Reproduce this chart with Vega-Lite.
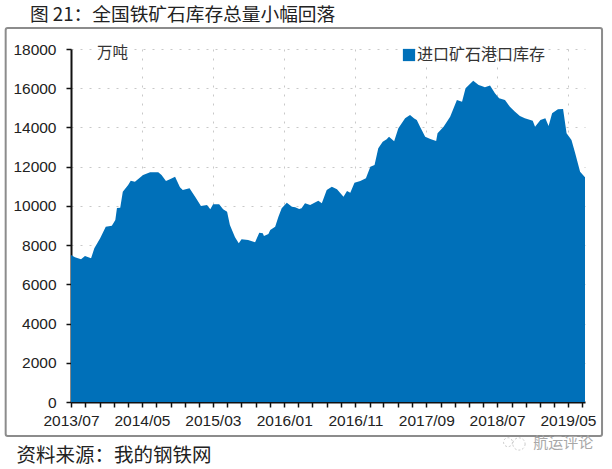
{
"$schema":"https://vega.github.io/schema/vega-lite/v6.json",
"width":514,"height":353,
"autosize":{"type":"none"},
"padding":{"left":71,"top":49,"right":27,"bottom":67},
"background":"white",
"config":{"font":"Liberation Sans","view":{"stroke":null}},
"title":{"text":"图 21：全国铁矿石库存总量小幅回落","anchor":"start","frame":"group","dx":-41,"offset":-7,"baseline":"middle","font":"Noto Sans CJK SC","fontSize":18.7,"fontWeight":"normal","color":"#222222"},
"resolve":{"axis":{"x":"independent","y":"independent"}},
"data":{"values":[
{"date":"2013-07-01","stock":7500},{"date":"2013-07-18","stock":7380},{"date":"2013-08-13","stock":7277},{"date":"2013-08-30","stock":7446},{"date":"2013-09-25","stock":7328},{"date":"2013-10-09","stock":7838},{"date":"2013-11-03","stock":8347},{"date":"2013-11-27","stock":8942},{"date":"2013-12-23","stock":8993},{"date":"2014-01-07","stock":9282},{"date":"2014-01-14","stock":9894},{"date":"2014-01-28","stock":9909},{"date":"2014-02-08","stock":10725},{"date":"2014-03-03","stock":11067},{"date":"2014-03-14","stock":11287},{"date":"2014-04-01","stock":11236},{"date":"2014-05-06","stock":11577},{"date":"2014-06-05","stock":11712},{"date":"2014-07-10","stock":11712},{"date":"2014-07-24","stock":11577},{"date":"2014-08-12","stock":11271},{"date":"2014-08-29","stock":11357},{"date":"2014-09-20","stock":11492},{"date":"2014-10-11","stock":10948},{"date":"2014-10-23","stock":10812},{"date":"2014-11-21","stock":10897},{"date":"2014-12-15","stock":10472},
{"date":"2015-01-09","stock":9996},{"date":"2015-02-04","stock":10047},{"date":"2015-02-18","stock":9825},{"date":"2015-03-02","stock":10081},{"date":"2015-03-28","stock":10081},{"date":"2015-04-14","stock":9825},{"date":"2015-05-01","stock":9705},{"date":"2015-05-13","stock":9027},{"date":"2015-06-04","stock":8398},{"date":"2015-06-20","stock":8092},{"date":"2015-07-02","stock":8296},{"date":"2015-07-30","stock":8262},{"date":"2015-08-29","stock":8143},{"date":"2015-09-16","stock":8636},{"date":"2015-10-01","stock":8602},{"date":"2015-10-06","stock":8466},{"date":"2015-10-25","stock":8568},{"date":"2015-11-02","stock":8772},{"date":"2015-11-23","stock":8942},{"date":"2015-12-07","stock":9452},{"date":"2015-12-21","stock":9877},
{"date":"2016-01-12","stock":10166},{"date":"2016-02-03","stock":9960},{"date":"2016-02-17","stock":9928},{"date":"2016-03-05","stock":9843},{"date":"2016-03-15","stock":9877},{"date":"2016-03-30","stock":10132},{"date":"2016-04-21","stock":10047},{"date":"2016-05-26","stock":10268},{"date":"2016-06-10","stock":10132},{"date":"2016-07-01","stock":10812},{"date":"2016-07-23","stock":10982},{"date":"2016-08-14","stock":10846},{"date":"2016-09-11","stock":10472},{"date":"2016-09-26","stock":10761},{"date":"2016-10-10","stock":10676},{"date":"2016-10-28","stock":11186},{"date":"2016-11-22","stock":11271},{"date":"2016-12-16","stock":11407},
{"date":"2017-01-04","stock":12000},{"date":"2017-01-22","stock":12087},{"date":"2017-02-07","stock":12937},{"date":"2017-02-26","stock":13276},{"date":"2017-03-15","stock":13397},{"date":"2017-03-25","stock":13530},{"date":"2017-04-16","stock":13295},{"date":"2017-05-04","stock":13960},{"date":"2017-06-02","stock":14468},{"date":"2017-06-23","stock":14637},{"date":"2017-07-11","stock":14450},{"date":"2017-07-22","stock":14382},{"date":"2017-08-05","stock":14040},{"date":"2017-08-27","stock":13530},{"date":"2017-09-18","stock":13413},{"date":"2017-10-13","stock":13311},{"date":"2017-10-19","stock":13703},{"date":"2017-11-14","stock":14040},{"date":"2017-12-12","stock":14550},
{"date":"2018-01-10","stock":15402},{"date":"2018-02-01","stock":15315},{"date":"2018-02-16","stock":15999},{"date":"2018-03-21","stock":16386},{"date":"2018-04-13","stock":16167},{"date":"2018-04-26","stock":16116},{"date":"2018-05-10","stock":16049},{"date":"2018-06-01","stock":16133},{"date":"2018-06-22","stock":15750},{"date":"2018-07-10","stock":15489},{"date":"2018-08-04","stock":15402},{"date":"2018-08-25","stock":15060},{"date":"2018-09-16","stock":14805},{"date":"2018-10-07","stock":14586},{"date":"2018-10-28","stock":14468},{"date":"2018-12-01","stock":14346},{"date":"2018-12-11","stock":14040},
{"date":"2019-01-03","stock":14382},{"date":"2019-01-24","stock":14468},{"date":"2019-02-07","stock":14076},{"date":"2019-02-22","stock":14723},{"date":"2019-03-19","stock":14927},{"date":"2019-04-10","stock":14943},{"date":"2019-04-25","stock":13703},{"date":"2019-05-16","stock":13362},{"date":"2019-06-01","stock":12683},{"date":"2019-06-22","stock":11745},{"date":"2019-07-13","stock":11460}
]},
"layer":[
{"transform":[{"calculate":"'进口矿石港口库存'","as":"series"}],
 "mark":{"type":"area","interpolate":"linear"},
 "encoding":{
  "x":{"field":"date","type":"temporal",
   "scale":{"type":"utc","domain":[{"year":2013,"month":7,"date":1,"utc":true},{"year":2019,"month":7,"date":13,"utc":true}]},
   "axis":{"title":"资料来源：我的钢铁网","titleFont":"Noto Sans CJK SC","titleFontSize":19.5,"titleFontWeight":"normal","titleColor":"#222222","titleAnchor":"start","titleAlign":"left","titleBaseline":"middle","titleX":-55,"titleY":53,
    "values":["2013-07-01","2013-09-01","2013-11-01","2014-01-01","2014-03-01","2014-05-01","2014-07-01","2014-09-01","2014-11-01","2015-01-01","2015-03-01","2015-05-01","2015-07-01","2015-09-01","2015-11-01","2016-01-01","2016-03-01","2016-05-01","2016-07-01","2016-09-01","2016-11-01","2017-01-01","2017-03-01","2017-05-01","2017-07-01","2017-09-01","2017-11-01","2018-01-01","2018-03-01","2018-05-01","2018-07-01","2018-09-01","2018-11-01","2019-01-01","2019-03-01","2019-05-01","2019-07-01"],
    "labelExpr":"((utcyear(datum.value)*12+utcmonth(datum.value)-24162)%10===0)?utcFormat(datum.value,'%Y/%m'):''",
    "labelOverlap":false,"labelBound":false,"labelFlush":false,"labelFont":"Liberation Sans","labelFontSize":15.5,"labelColor":"#222222","labelPadding":6,"labelAngle":0,
    "domainColor":"#111111","domainWidth":2,"tickColor":"#111111","tickWidth":1.5,"tickSize":5,
    "grid":true,"gridColor":"#c8c8c8","gridDash":[2,7],"gridWidth":1,
    "gridOpacity":{"condition":{"test":"((utcyear(datum.value)*12+utcmonth(datum.value)-24162)%10===0)&&utcyear(datum.value)*12+utcmonth(datum.value)>24162","value":1},"value":0}}},
  "y":{"field":"stock","type":"quantitative",
   "scale":{"domain":[0,18000],"nice":false},
   "axis":{"title":null,"values":[0,2000,4000,6000,8000,10000,12000,14000,16000,18000],"format":"d","labelOverlap":false,"labelFont":"Liberation Sans","labelFontSize":15.5,"labelColor":"#222222","labelPadding":10,
    "domainColor":"#111111","domainWidth":2,"tickColor":"#111111","tickWidth":1.5,"tickSize":5,
    "grid":true,"gridColor":"#c8c8c8","gridDash":[2,7],"gridWidth":1}},
  "color":{"field":"series","type":"nominal","scale":{"range":["#0070B9"]},
   "legend":{"title":null,"orient":"none","legendX":330,"legendY":-2,"symbolType":"square","symbolSize":150,"labelFont":"Noto Sans CJK SC","labelFontSize":16,"labelColor":"#333333","labelOffset":0,"padding":0}}
 }},
{"data":{"values":[{}]},
 "mark":{"type":"rect","fill":null,"stroke":"#8c8c8c","strokeWidth":2,"cornerRadius":2},
 "encoding":{"x":{"datum":{"year":2012,"month":9,"date":24,"utc":true},"type":"temporal","axis":null},"x2":{"datum":{"year":2019,"month":9,"date":24,"utc":true}},"y":{"datum":-1734,"type":"quantitative","axis":null},"y2":{"datum":19074}}},
{"data":{"values":[{}]},
 "mark":{"type":"text","text":"万吨","align":"left","baseline":"middle","font":"Noto Sans CJK SC","fontSize":15.5,"color":"#333333"},
 "encoding":{"x":{"datum":{"year":2013,"month":10,"date":20,"utc":true},"type":"temporal","axis":null},"y":{"datum":17800,"type":"quantitative","axis":null}}},
{"data":{"values":[{}]},
 "mark":{"type":"text","text":"航运评论","align":"left","baseline":"middle","font":"Noto Sans CJK SC","fontSize":15,"color":"#a8a8a8"},
 "encoding":{"x":{"datum":{"year":2018,"month":12,"date":3,"utc":true},"type":"temporal","axis":null},"y":{"datum":-2091,"type":"quantitative","axis":null}}},
{"data":{"values":[{}]},
 "mark":{"type":"point","shape":"circle","filled":false,"size":150,"stroke":"#b5b5b5","strokeWidth":1,"strokeDash":[2,2]},
 "encoding":{"x":{"datum":{"year":2018,"month":10,"date":3,"utc":true},"type":"temporal","axis":null},"y":{"datum":-2140,"type":"quantitative","axis":null}}},
{"data":{"values":[{}]},
 "mark":{"type":"point","shape":"circle","filled":false,"size":80,"stroke":"#b5b5b5","strokeWidth":1,"strokeDash":[2,2]},
 "encoding":{"x":{"datum":{"year":2018,"month":8,"date":17,"utc":true},"type":"temporal","axis":null},"y":{"datum":-2050,"type":"quantitative","axis":null}}}
]}
